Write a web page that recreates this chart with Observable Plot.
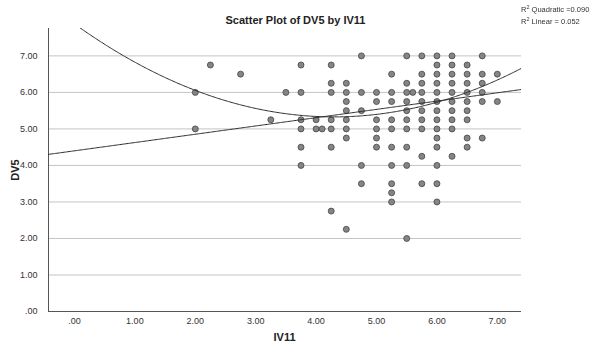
<!DOCTYPE html>
<html>
<head>
<meta charset="utf-8">
<script src="https://cdn.jsdelivr.net/npm/d3@7"></script>
<script src="https://cdn.jsdelivr.net/npm/@observablehq/plot@0.6"></script>
<style>
  html, body { margin: 0; padding: 0; background: #fff; }
  #chart { position: relative; width: 591px; height: 348px; font-family: "Liberation Sans", Arial, sans-serif; color: #222; }
  #chart svg { position: absolute; left: 0; top: 0; }
  .title { position: absolute; left: 0; width: 591px; top: 13px; text-align: center; font-size: 11px; font-weight: bold; line-height: 14px; }
  .legend { position: absolute; right: 2px; top: 4px; font-size: 7.5px; line-height: 12px; white-space: nowrap; color: #333; will-change: transform; }
  .legend sup { font-size: 5.5px; vertical-align: 3px; line-height: 0; }
  .xlabel { position: absolute; left: 48px; width: 473px; top: 330px; text-align: center; font-size: 11px; font-weight: bold; line-height: 14px; }
  .ylabel { position: absolute; left: 15px; top: 170px; font-size: 11px; font-weight: bold; transform: translate(-50%, -50%) rotate(-90deg); white-space: nowrap; }
</style>
</head>
<body>
<div id="chart">
  <div class="title">Scatter Plot of DV5 by IV11</div>
  <div class="legend">R<sup>2</sup> Quadratic =0.090<br>R<sup>2</sup> Linear = 0.052</div>
  <div class="xlabel">IV11</div>
  <div class="ylabel">DV5</div>
</div>
<script>
// IV11 levels and the DV5 scores observed at each level
const iv11Levels = [2.0, 2.25, 2.75, 3.25, 3.5, 3.75, 4.0, 4.1, 4.25, 4.5, 4.75, 5.0, 5.25, 5.5, 5.6, 5.75, 6.0, 6.25, 6.5, 6.75, 7.0];
const dv5ByLevel = [
  [6.0, 5.0],
  [6.75],
  [6.5],
  [5.25],
  [6.0],
  [6.75, 6.0, 5.25, 5.0, 4.5, 4.0],
  [5.25, 5.0],
  [5.0],
  [6.75, 6.25, 6.0, 5.25, 5.0, 4.5, 2.75],
  [6.25, 6.0, 5.75, 5.5, 5.25, 5.0, 4.75, 2.25],
  [7.0, 6.0, 5.5, 4.0, 3.5],
  [6.0, 5.75, 5.25, 5.0, 4.75, 4.5],
  [6.5, 6.0, 5.75, 5.25, 5.0, 4.5, 4.0, 3.5, 3.25, 3.0],
  [7.0, 6.25, 6.0, 5.75, 5.5, 5.25, 5.0, 4.5, 4.0, 2.0],
  [6.0],
  [7.0, 6.5, 6.25, 6.0, 5.75, 5.5, 5.25, 5.0, 4.25, 3.5],
  [7.0, 6.75, 6.5, 6.25, 6.0, 5.75, 5.5, 5.25, 5.0, 4.75, 4.5, 4.0, 3.5, 3.0],
  [7.0, 6.75, 6.5, 6.25, 6.0, 5.75, 5.5, 5.25, 5.0, 4.25],
  [6.75, 6.5, 6.25, 6.0, 5.75, 5.5, 5.25, 4.75, 4.5],
  [7.0, 6.5, 6.25, 6.0, 5.75, 4.75],
  [6.5, 5.75]
];

// Fitted curves: linear and quadratic coefficients (intercept, x, x^2)
const linearFit = [4.40, 0.227];
const quadraticFit = [7.875, -1.1854, 0.138];

// Axis tick values
const xTicks = [0, 1, 2, 3, 4, 5, 6, 7];
const yTicks = [0, 1, 2, 3, 4, 5, 6, 7];

const xDomain = [-0.43, 7.4];
const yDomain = [0, 7.75];

const points = iv11Levels.flatMap((iv, i) => dv5ByLevel[i].map(dv => ({iv11: iv, dv5: dv})));

const fmt = d => d === 0 ? ".00" : d.toFixed(2);

// sample x along the plotted range for the fitted curves
const xs = d3.range(xDomain[0], xDomain[1] + 1e-9, 0.02);
const linearCurve = xs.map(x => ({x, y: linearFit[0] + linearFit[1] * x}));
const quadraticCurve = xs.map(x => ({x, y: quadraticFit[0] + quadraticFit[1] * x + quadraticFit[2] * x * x}));

const chart = Plot.plot({
  width: 591,
  height: 348,
  marginLeft: 48,
  marginRight: 70,
  marginTop: 28,
  marginBottom: 37,
  style: {fontFamily: "'Liberation Sans', Arial, sans-serif", fontSize: "9px", color: "#333", background: "transparent"},
  x: {domain: xDomain},
  y: {domain: yDomain},
  marks: [
    Plot.gridY(yTicks.slice(1), {stroke: "#c4c4c4", strokeOpacity: 1, strokeWidth: 1}),
    Plot.axisX(xTicks, {tickSize: 0, tickPadding: 6, tickFormat: fmt, label: null, fill: "#333"}),
    Plot.axisY(yTicks, {tickSize: 0, tickPadding: 11, tickFormat: fmt, label: null, fill: "#333"}),
    Plot.ruleY([yDomain[0]], {stroke: "#555", strokeWidth: 1}),
    Plot.ruleX([xDomain[0]], {stroke: "#555", strokeWidth: 1}),
    Plot.dot(points, {x: "iv11", y: "dv5", r: 3, fill: "#858585", stroke: "#444", strokeWidth: 0.8}),
    Plot.line(quadraticCurve, {x: "x", y: "y", stroke: "#2a2a2a", strokeWidth: 1, clip: true}),
    Plot.line(linearCurve, {x: "x", y: "y", stroke: "#2a2a2a", strokeWidth: 1, clip: true})
  ]
});

document.getElementById("chart").prepend(chart);
</script>
</body>
</html>
